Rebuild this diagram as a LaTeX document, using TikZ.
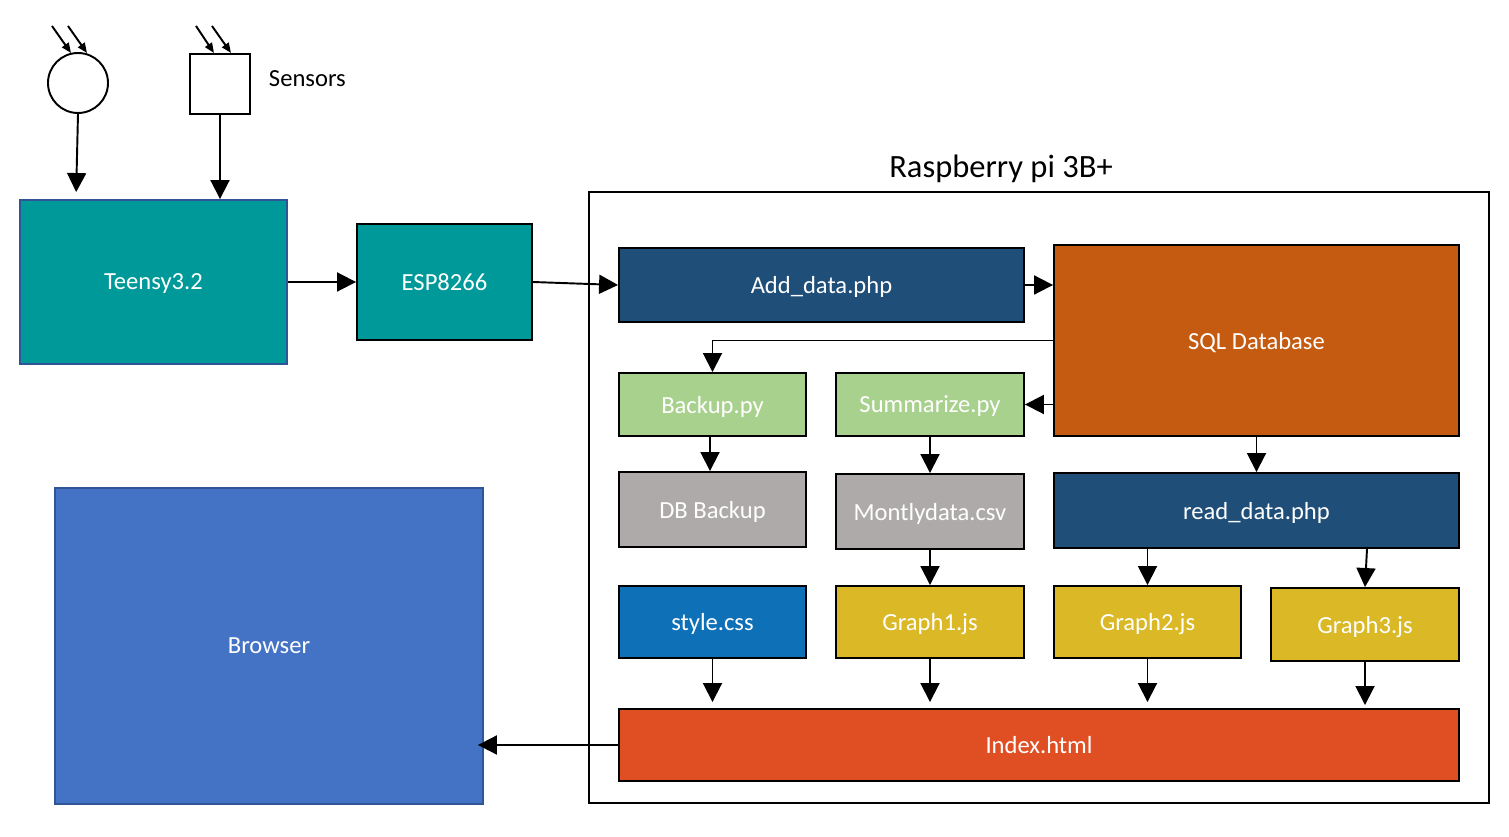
\documentclass[tikz,border=0pt]{standalone}
\usepackage{fontspec}
\setmainfont{Carlito}
\usetikzlibrary{arrows.meta}
\definecolor{teal1}{HTML}{009999}
\definecolor{navy1}{HTML}{1F4E79}
\definecolor{rust1}{HTML}{C55A11}
\definecolor{green1}{HTML}{A9D18E}
\definecolor{grey1}{HTML}{AEAAAA}
\definecolor{blue1}{HTML}{0E70B7}
\definecolor{gold1}{HTML}{DAB826}
\definecolor{red1}{HTML}{E04F24}
\definecolor{sky1}{HTML}{4472C4}
\definecolor{edge1}{HTML}{2F5597}
\begin{document}
\begin{tikzpicture}[>={Triangle[length=0.38cm,width=0.38cm]}, x=0.02cm, y=-0.02cm]
\tikzstyle{every node}=[draw=black,line width=1.1pt,inner sep=0pt,text depth=0pt,text=white,font=\fontsize{14}{17}\selectfont]
\tikzstyle{every path}=[line width=1.1pt]
\useasboundingbox (0,0) rectangle (1509,837);
\node[circle,minimum size=1.2cm,text=black](s1) at (78,83) {};
\node[rectangle,minimum size=1.2cm,text=black](s2) at (220,84) {};
\node[draw=none,text=black,anchor=west](sn) at (268,79) {Sensors};
\node[rectangle,fill=teal1,draw=edge1,minimum width=5.34cm,minimum height=3.28cm](tn) at (153.5,282) {Teensy3.2};
\node[rectangle,fill=teal1,minimum width=3.5cm,minimum height=2.32cm](esp) at (444.5,282) {ESP8266};
\node[rectangle,minimum width=18cm,minimum height=12.22cm](pi) at (1039,497.5) {};
\node[draw=none,text=black,font=\fontsize{18.5}{22}\selectfont](pt) at (1001,166) {Raspberry pi 3B+};
\node[rectangle,fill=navy1,minimum width=8.1cm,minimum height=1.48cm](ad) at (821.5,285) {Add\_data.php};
\node[rectangle,fill=rust1,minimum width=8.1cm,minimum height=3.82cm](sql) at (1256.5,340.5) {SQL Database};
\node[rectangle,fill=green1,minimum width=3.74cm,minimum height=1.26cm](bk) at (712.5,404.5) {Backup.py};
\node[rectangle,fill=green1,minimum width=3.76cm,minimum height=1.26cm](sm) at (930,404.5) {Summarize.py};
\node[rectangle,fill=grey1,minimum width=3.74cm,minimum height=1.5cm](dbb) at (712.5,509.5) {DB Backup};
\node[rectangle,fill=grey1,minimum width=3.76cm,minimum height=1.5cm](md) at (930,511.5) {Montlydata.csv};
\node[rectangle,fill=navy1,minimum width=8.1cm,minimum height=1.5cm](rd) at (1256.5,510.5) {read\_data.php};
\node[rectangle,fill=blue1,minimum width=3.74cm,minimum height=1.44cm](css) at (712.5,622) {style.css};
\node[rectangle,fill=gold1,minimum width=3.76cm,minimum height=1.44cm](g1) at (930,622) {Graph1.js};
\node[rectangle,fill=gold1,minimum width=3.74cm,minimum height=1.44cm](g2) at (1147.5,622) {Graph2.js};
\node[rectangle,fill=gold1,minimum width=3.76cm,minimum height=1.46cm](g3) at (1365,624.5) {Graph3.js};
\node[rectangle,fill=red1,minimum width=16.8cm,minimum height=1.44cm](ix) at (1039,745) {Index.html};
\node[rectangle,fill=sky1,draw=edge1,minimum width=8.56cm,minimum height=6.32cm](br) at (269,646) {Browser};
% light onto the sensors
\coordinate (a1) at (52,26);
\coordinate (a2) at (68,26);
\coordinate (a3) at (196,26);
\coordinate (a4) at (212,26);
\draw[-{Triangle[length=0.2cm,width=0.16cm]}] (a1) -- (71,53);
\draw[-{Triangle[length=0.2cm,width=0.16cm]}] (a2) -- (87,53);
\draw[-{Triangle[length=0.2cm,width=0.16cm]}] (a3) -- (214,53);
\draw[-{Triangle[length=0.2cm,width=0.16cm]}] (a4) -- (231,53);
\draw[->,shorten >=0.14cm] (s1.south) -- ([xshift=-0.04cm]tn.north -| s1.south);
\draw[->] (s2.south) -- (tn.north -| s2.south);
\draw[->] (tn.east) -- (esp.west);
\draw[->] (esp.east) -- (ad.west);
\draw[->] (ad.east) -- (ad.east -| sql.west);
\draw[->] (sql.west) -| (bk.north);
\draw[->] (sql.west |- sm.east) -- (sm.east);
\draw[->] ([xshift=-0.05cm]bk.south) -- ([xshift=-0.05cm]dbb.north);
\draw[->] (sm.south) -- (md.north);
\draw[->] (sql.south) -- (rd.north);
\draw[->] (md.south) -- (g1.north);
\draw[->] (rd.south -| g2.north) -- (g2.north);
\draw[->] ([xshift=0.04cm]rd.south -| g3.north) -- (g3.north);
\draw[->,shorten >=0.12cm] (css.south) -- (css.south |- ix.north);
\draw[->,shorten >=0.12cm] (g1.south) -- (g1.south |- ix.north);
\draw[->,shorten >=0.12cm] (g2.south) -- (g2.south |- ix.north);
\draw[->,shorten >=0.06cm] (g3.south) -- (g3.south |- ix.north);
\draw[->,shorten >=-0.12cm] (ix.west) -- (ix.west -| br.east);
\end{tikzpicture}
\end{document}
